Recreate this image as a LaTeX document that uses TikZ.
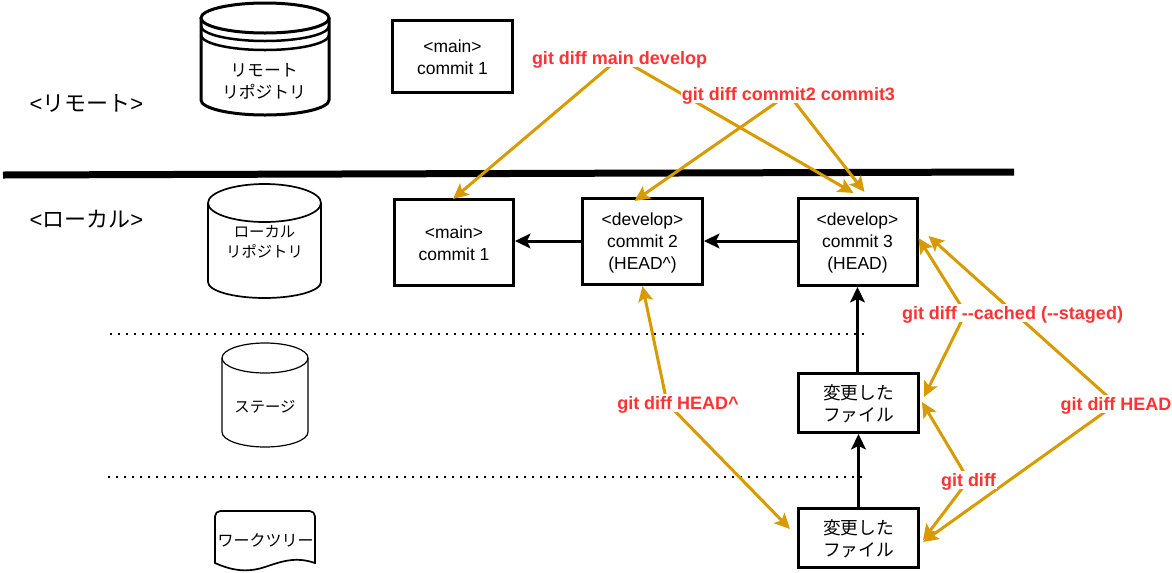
\documentclass[tikz,border=0pt]{standalone}
\usepackage{fontspec}
\setmainfont{Liberation Sans}
\newfontfamily\jp{Noto Sans CJK JP}
\usetikzlibrary{arrows.meta,calc}
\pgfdeclarelayer{top}
\pgfsetlayers{main,top}
\def\px{0.75pt}
\newcommand{\strutlat}{\rule{0pt}{11pt}}
\newcommand{\strutjap}{\rule{0pt}{13pt}}
\definecolor{diffline}{HTML}{D79B00}
\definecolor{difftext}{HTML}{FF3333}
\tikzset{
  boxn/.style={draw=black,line width=3*\px,fill=white,align=center,inner sep=0pt,font=\fontsize{13.1pt}{16.5pt}\selectfont},
  plain/.style={inner sep=0pt,align=center},
  difflabel/.style={inner xsep=1pt,inner ysep=1.9pt,text height=10pt,text depth=0.2pt,fill=white,text=difftext,font=\fontsize{13.5pt}{16pt}\selectfont\bfseries},
  difflink/.style={draw=diffline,line width=3*\px,-{Stealth[length=11.5pt,width=11pt,inset=2.5pt]}},
  flow/.style={draw=black,line width=3*\px,-{Stealth[length=11.5pt,width=11pt,inset=2.5pt]}},
  layerline/.style={line width=1.5*\px,dash pattern=on 1.5pt off 4.5pt},
}
\begin{document}
\begin{tikzpicture}[x=0.75pt,y=-0.75pt]
\useasboundingbox (0,0) rectangle (1172,572);
% divider
\coordinate (divL) at (3,175);
\coordinate (divR) at (1014,172);
\draw[line width=7*\px] (divL) -- (divR);
\coordinate (d1L) at (110,334);
\coordinate (d1R) at (865,334);
\coordinate (d2L) at (108,477);
\coordinate (d2R) at (865,477);
\draw[layerline] (d1L) -- (d1R);
\draw[layerline] (d2L) -- (d2R);
% section labels
\node[plain,font=\fontsize{16.5pt}{20pt}\selectfont] (lblR) at (86.5,103) {<{\jp リモート}>};
\node[plain,font=\fontsize{16.5pt}{20pt}\selectfont] (lblL) at (86.5,219) {<{\jp ローカル}>};
% remote repository
\draw[line width=3*\px,fill=white] (201,18) -- (201,100) arc[start angle=180,end angle=360,x radius=64*\px,y radius=15*\px] -- (329,18);
\draw[line width=3*\px,fill=white] (265,18) ellipse[x radius=64*\px,y radius=15*\px];
\draw[line width=2.5*\px] (201,26) arc[start angle=180,end angle=360,x radius=64*\px,y radius=15*\px];
\draw[line width=2.5*\px] (201,35) arc[start angle=180,end angle=360,x radius=64*\px,y radius=15*\px];
\node[plain,font=\fontsize{12.6pt}{16.5pt}\selectfont\jp] (remote) at (264,81) {リモート\\リポジトリ};
% local repository
\draw[line width=1.7*\px,fill=white] (208,203) -- (208,282) arc[start angle=180,end angle=360,x radius=56.5*\px,y radius=16*\px] -- (321,203);
\draw[line width=1.7*\px] (264.5,203) ellipse[x radius=56.5*\px,y radius=19*\px];
\node[plain,font=\fontsize{11.5pt}{15pt}\selectfont\jp] (local) at (264.5,242) {ローカル\\リポジトリ};
% stage
\draw[line width=1.2*\px,fill=white] (222,358) -- (222,432) arc[start angle=180,end angle=360,x radius=43*\px,y radius=15*\px] -- (308,358);
\draw[line width=1.2*\px] (265,358) ellipse[x radius=43*\px,y radius=15*\px];
\node[plain,font=\fontsize{11.5pt}{15pt}\selectfont\jp] (stage) at (265,407) {ステージ};
% work tree
\draw[line width=1.7*\px,fill=white,rounded corners=4pt] (215,563) -- (215,511) -- (315,511) -- (315,563);
\draw[line width=1.7*\px] (215,558) -- (215,563) .. controls (235,572) and (250,572) .. (265,567) .. controls (280,562) and (295,556) .. (315,563) -- (315,558);
\node[plain,font=\fontsize{12pt}{15pt}\selectfont\jp] (tree) at (265.5,540) {ワークツリー};
% commit boxes
\node[boxn,minimum width=120*\px,minimum height=72*\px] (mainR) at (452.5,56.5) {\strutlat<main>\\commit 1};
\node[boxn,minimum width=119*\px,minimum height=86*\px] (mainL) at (454,242.5) {\strutlat<main>\\commit 1};
\node[boxn,minimum width=120*\px,minimum height=86*\px] (dev2) at (642.5,241.5) {\strutlat<develop>\\commit 2\\(HEAD\textasciicircum)};
\node[boxn,minimum width=119*\px,minimum height=87*\px] (dev3) at (857.5,242) {\strutlat<develop>\\commit 3\\(HEAD)};
\node[boxn,minimum width=120*\px,minimum height=59*\px,font=\fontsize{13.3pt}{16.5pt}\selectfont\jp] (file1) at (858.5,403) {\strutjap 変更した\\ファイル};
\node[boxn,minimum width=120*\px,minimum height=59*\px,font=\fontsize{13.3pt}{16.5pt}\selectfont\jp] (file2) at (858.5,538) {\strutjap 変更した\\ファイル};
% flow
\draw[flow] (dev2.west |- 0,241) -- (mainL.east |- 0,241);
\draw[flow] (dev3.west |- 0,241) -- (dev2.east |- 0,241);
\draw[flow] (dev3.south |- file1.north) -- (dev3.south);
\draw[flow] (file1.south |- file2.north) -- (file1.south);
% diff labels
\begin{pgfonlayer}{top}
\node[difflabel] (dMain) at (619.5,58) {git diff main develop};
\node[difflabel] (dCommit) at (788.5,94) {git diff commit2 commit3};
\node[difflabel] (dCached) at (1012.5,313) {git diff {-}{-}cached ({-}{-}staged)};
\node[difflabel] (dPrev) at (678,403) {git diff HEAD\textasciicircum};
\node[difflabel] (dHead) at (1116,404) {git diff HEAD};
\node[difflabel] (dDiff) at (968.5,480) {git diff};
\end{pgfonlayer}
% diff links
\draw[difflink] (dMain.center) -- ($(mainL.north)+(-1,1)$);
\draw[difflink] (dMain.center) -- ($(dev3.north)+(-4,-4)$);
\draw[difflink] (dCommit.center) -- ($(dev2.north)+(-8,4)$);
\draw[difflink] (dCommit.center) -- ($(dev3.north)+(7,-5)$);
\draw[difflink] ($(dCached.center)+(-47,0)$) -- ($(dev3.east)+(0,-4)$);
\draw[difflink] ($(dCached.center)+(-47,0)$) -- ($(file1.east)+(4,-6)$);
\draw[difflink] (dHead.center) -- ($(dev3.east)+(10,-6)$);
\draw[difflink] (dHead.center) -- ($(file2.east)+(3,4)$);
\draw[difflink] (dDiff.center) -- ($(file1.east)+(2,-1)$);
\draw[difflink] (dDiff.center) -- ($(file2.east)+(3,2)$);
\draw[difflink] ($(dPrev.center)+(-11,0)$) -- (dev2.south);
\draw[difflink] ($(dPrev.center)+(-11,0)$) -- ($(file2.west)+(-7,-9)$);
\end{tikzpicture}
\end{document}
